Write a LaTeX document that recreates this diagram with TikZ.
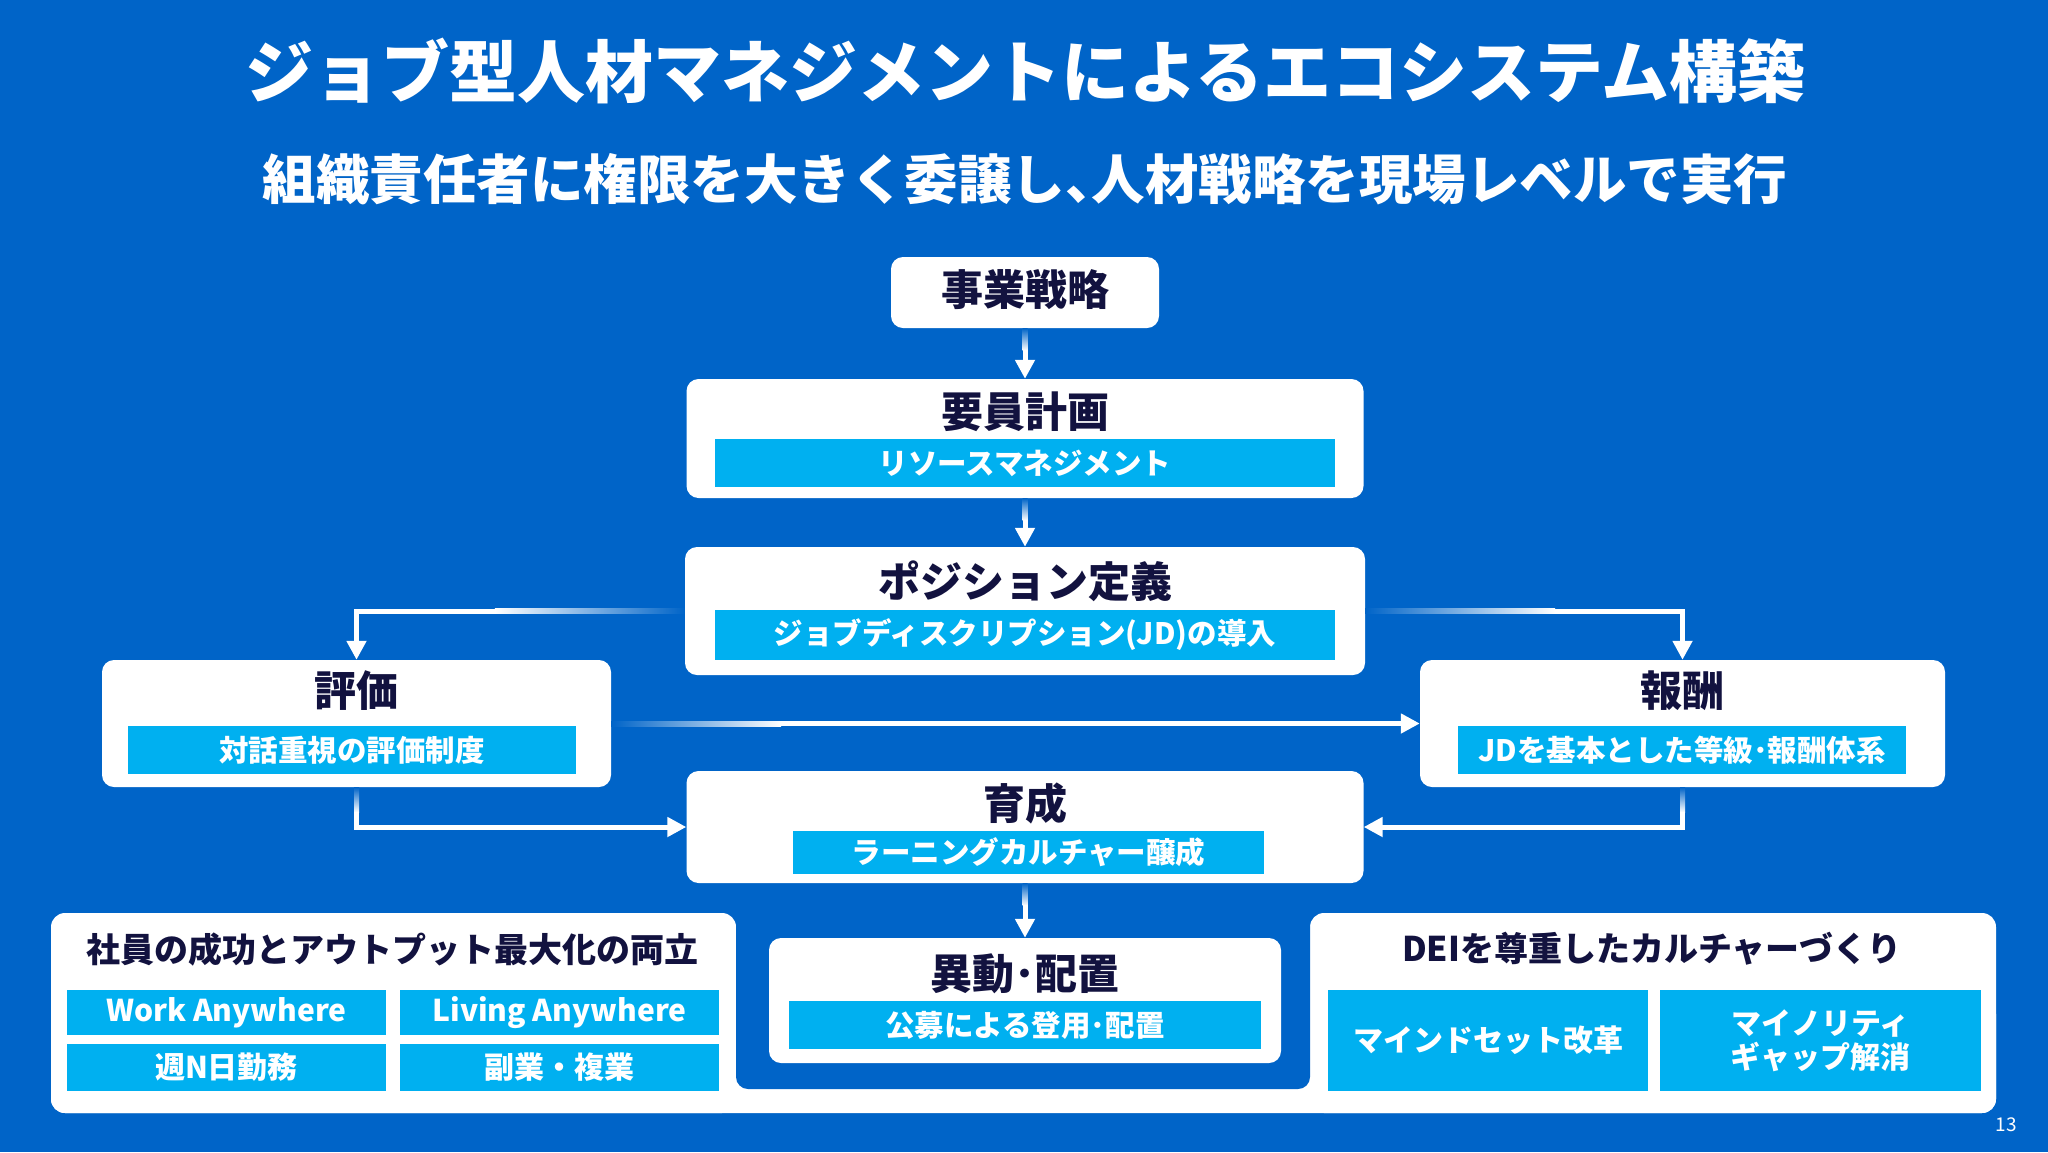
\documentclass[tikz,border=0pt]{standalone}
\usepackage{fontspec}
\setmainfont{Noto Sans CJK JP}
\usetikzlibrary{arrows.meta,calc}
\definecolor{bgblue}{HTML}{0064C8}
\definecolor{barcyan}{HTML}{00B0F0}
\definecolor{navy}{HTML}{12123F}
\tikzset{
 wbox/.style={fill=white, rounded corners=12pt, inner sep=0pt, draw=none},
 cbar/.style={fill=barcyan, inner sep=0pt, text=white, font=\fontsize{29.5}{34}\selectfont\bfseries},
 ttl/.style={inner sep=0pt, text=navy, font=\fontsize{42}{48}\selectfont\bfseries},
 ptl/.style={inner sep=0pt, text=navy, font=\fontsize{34}{40}\selectfont\bfseries},
 sbox/.style={fill=barcyan, inner sep=0pt, text=white, font=\fontsize{30}{34}\selectfont\bfseries, align=center},
 arr/.style={draw=white, line width=5pt, -{Triangle[width=19pt,length=19pt]}},
}
\begin{document}
\begin{tikzpicture}[x=1pt,y=-1pt]
% background
\fill[bgblue] (0,0) rectangle (2048,1152);
\useasboundingbox (0,0) rectangle (2048,1152);

% titles
\node[inner sep=0pt, text=white, font=\fontsize{68}{76}\selectfont\bfseries] (title) at (1025,71) {ジョブ型人材マネジメントによるエコシステム構築};
\node[inner sep=0pt, text=white, font=\fontsize{53.5}{60}\selectfont\bfseries] (subtitle) at (1025,179) {組織責任者に権限を大きく委譲し、\kern-0.5em人材戦略を現場レベルで実行};

% bottom panels
\fill[white, rounded corners=14pt] (51,1000) rectangle (1996,1113);
\fill[white, rounded corners=14pt] (51,913) rectangle (736,1113);
\fill[white, rounded corners=14pt] (1310,913) rectangle (1996,1113);
\fill[bgblue, rounded corners=12pt] (736,895) rectangle (1310,1089);

% main boxes
\node[wbox, minimum width=268pt, minimum height=71pt] (jigyo) at (1025,292.5) {};
\node[ttl] (jigyoT) at (1025,290) {事業戦略};

\node[wbox, minimum width=677pt, minimum height=119pt] (yoin) at (1025,438.5) {};
\node[ttl] (yoinT) at (1025,412) {要員計画};
\node[cbar, minimum width=620pt, minimum height=48pt] (yoinB) at (1025,463) {リソースマネジメント};

\node[wbox, minimum width=680pt, minimum height=128pt] (pos) at (1025,611) {};
\node[ttl] (posT) at (1025,581) {ポジション定義};
\node[cbar, minimum width=620pt, minimum height=50pt] (posB) at (1025,635) {ジョブディスクリプション(JD)の導入};

\node[wbox, minimum width=509pt, minimum height=127pt] (hyoka) at (356.5,723.5) {};
\node[ttl] (hyokaT) at (356.5,691) {評価};
\node[cbar, minimum width=448pt, minimum height=48pt] (hyokaB) at (352,750) {対話重視の評価制度};

\node[wbox, minimum width=525pt, minimum height=127pt] (hoshu) at (1682.5,723.5) {};
\node[ttl] (hoshuT) at (1682.5,691) {報酬};
\node[cbar, minimum width=448pt, minimum height=48pt] (hoshuB) at (1682,750) {JDを基本とした等級･報酬体系};

\node[wbox, minimum width=677pt, minimum height=112pt] (ikusei) at (1025,827) {};
\node[ttl] (ikuseiT) at (1025,803) {育成};
\node[cbar, minimum width=471pt, minimum height=43pt] (ikuseiB) at (1028.5,852.5) {ラーニングカルチャー醸成};

\node[wbox, minimum width=512pt, minimum height=125pt] (ido) at (1025,1000.5) {};
\node[ttl] (idoT) at (1025,974) {異動･配置};
\node[cbar, minimum width=472pt, minimum height=48pt] (idoB) at (1025,1025) {公募による登用･配置};

% left bottom panel content
\node[ptl] (leftT) at (392,950) {社員の成功とアウトプット最大化の両立};
\node[sbox, minimum width=319pt, minimum height=45pt] (wa) at (226.5,1012.5) {Work Anywhere};
\node[sbox, minimum width=319pt, minimum height=45pt] (la) at (559.5,1012.5) {Living Anywhere};
\node[sbox, minimum width=319pt, minimum height=47pt] (nd) at (226.5,1067.5) {週N日勤務};
\node[sbox, minimum width=319pt, minimum height=47pt] (fk) at (559.5,1067.5) {副業・複業};

% right bottom panel content
\node[ptl] (rightT) at (1652,949) {DEIを尊重したカルチャーづくり};
\node[sbox, minimum width=320pt, minimum height=101pt] (mind) at (1488,1040.5) {マインドセット改革};
\node[sbox, minimum width=321pt, minimum height=101pt] (minor) at (1820.5,1040.5) {マイノリティ\\ギャップ解消};

% page number
\node[inner sep=0pt, text=white, font=\fontsize{19}{20}\selectfont] (pnum) at (2006,1125) {13};

% connectors
% jigyo -> yoin
\coordinate (e1) at ($(jigyo.south)+(0,22)$);
\shade[top color=bgblue, bottom color=white] ($(jigyo.south)+(-2.5,0)$) rectangle ($(e1)+(2.5,0)$);
\draw[arr] (e1) -- (yoin.north);
% yoin -> pos
\coordinate (e2) at ($(yoin.south)+(0,22)$);
\shade[top color=bgblue, bottom color=white] ($(yoin.south)+(-2.5,0)$) rectangle ($(e2)+(2.5,0)$);
\draw[arr] (e2) -- (pos.north);
% pos -> hyoka
\coordinate (pw) at ($(pos.west)+(-190,0)$);
\shade[left color=white, right color=bgblue] ($(pw)+(0,-2.5)$) rectangle ($(pos.west)+(0,2.5)$);
\draw[arr] (pw) -| (hyoka.north);
% pos -> hoshu
\coordinate (pe) at ($(pos.east)+(190,0)$);
\shade[left color=bgblue, right color=white] ($(pos.east)+(0,-2.5)$) rectangle ($(pe)+(0,2.5)$);
\draw[arr] (pe) -| (hoshu.north);
% hyoka -> hoshu
\coordinate (he) at ($(hyoka.east)+(170,0)$);
\shade[left color=bgblue, right color=white] ($(hyoka.east)+(0,-2.5)$) rectangle ($(he)+(0,2.5)$);
\draw[arr] (he) -- (hoshu.west);
% hyoka -> ikusei
\coordinate (hs) at ($(hyoka.south)+(0,25)$);
\shade[top color=bgblue, bottom color=white] ($(hyoka.south)+(-2.5,0)$) rectangle ($(hs)+(2.5,0)$);
\draw[arr] (hs) |- (ikusei.west);
% hoshu -> ikusei
\coordinate (rs) at ($(hoshu.south)+(0,25)$);
\shade[top color=bgblue, bottom color=white] ($(hoshu.south)+(-2.5,0)$) rectangle ($(rs)+(2.5,0)$);
\draw[arr] (rs) |- (ikusei.east);
% ikusei -> ido
\coordinate (is) at ($(ikusei.south)+(0,22)$);
\shade[top color=bgblue, bottom color=white] ($(ikusei.south)+(-2.5,0)$) rectangle ($(is)+(2.5,0)$);
\draw[arr] (is) -- (ido.north);
\end{tikzpicture}
\end{document}
